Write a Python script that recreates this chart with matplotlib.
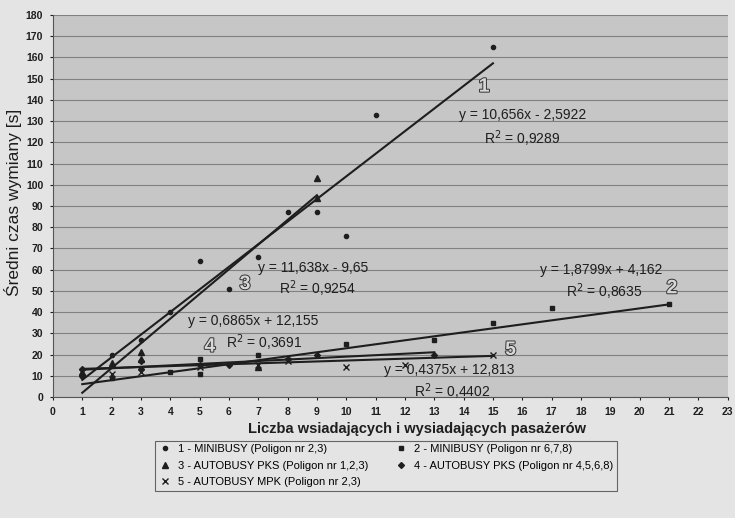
import numpy as np
import matplotlib.pyplot as plt
import matplotlib.patheffects as pe
from matplotlib.lines import Line2D

# === DANE === #
# 1 - MINIBUSY (Poligon nr 2,3)
s1_x = [1, 2, 3, 4, 5, 6, 7, 8, 9, 10, 11, 15]
s1_y = [10, 20, 27, 40, 64, 51, 66, 87, 87, 76, 133, 165]
# 2 - MINIBUSY (Poligon nr 6,7,8)
s2_x = [2, 4, 5, 5, 7, 10, 13, 15, 17, 21]
s2_y = [9, 12, 11, 18, 20, 25, 27, 35, 42, 44]
# 3 - AUTOBUSY PKS (Poligon nr 1,2,3)
s3_x = [1, 2, 3, 3, 7, 9, 9]
s3_y = [12, 16, 21, 18, 14, 94, 103]
# 4 - AUTOBUSY PKS (Poligon nr 4,5,6,8)
s4_x = [1, 1, 3, 3, 5, 6, 8, 9, 13]
s4_y = [13, 10, 17, 13, 15, 15, 18, 20, 20]
# 5 - AUTOBUSY MPK (Poligon nr 2,3)
s5_x = [1, 2, 3, 5, 7, 8, 10, 12, 15]
s5_y = [12, 11, 12, 14, 15, 17, 14, 15, 20]

# linie trendu: (nachylenie, wyraz wolny, x_od, x_do)
trend_a = [10.656, 1.8799, 11.638, 0.6865, 0.4375]
trend_b = [-2.5922, 4.162, -9.65, 12.155, 12.813]
trend_x0 = [1, 1, 1, 1, 1]
trend_x1 = [15, 21, 9, 13, 15]

eq_txt = ["y = 10,656x - 2,5922", "y = 1,8799x + 4,162", "y = 11,638x - 9,65",
          "y = 0,6865x + 12,155", "y = 0,4375x + 12,813"]
r2_txt = ["R$^2$ = 0,9289", "R$^2$ = 0,8635", "R$^2$ = 0,9254",
          "R$^2$ = 0,3691", "R$^2$ = 0,4402"]
etykiety = ["1 - MINIBUSY (Poligon nr 2,3)", "2 - MINIBUSY (Poligon nr 6,7,8)",
            "3 - AUTOBUSY PKS (Poligon nr 1,2,3)", "4 - AUTOBUSY PKS (Poligon nr 4,5,6,8)",
            "5 - AUTOBUSY MPK (Poligon nr 2,3)"]

# === WYKRES === #
plt.rcParams['font.family'] = ['Liberation Sans', 'DejaVu Sans']
fig = plt.figure(figsize=(7.35, 5.18), dpi=100, facecolor='#e4e4e4')
ax = fig.add_axes([0.072, 0.2336, 0.918, 0.7374])
ax.set_facecolor('#c6c6c6')

ink = '#1e1e1e'
markery = ['o', 's', '^', 'D', 'x']
rozm = [3, 3, 4, 3, 4]
serie = [(s1_x, s1_y), (s2_x, s2_y), (s3_x, s3_y), (s4_x, s4_y), (s5_x, s5_y)]
for (xs, ys), m, ms in zip(serie, markery, rozm):
    ax.plot(xs, ys, linestyle='none', marker=m, markersize=ms, color=ink,
            markeredgewidth=1.0, zorder=4)

for a, b, x0, x1 in zip(trend_a, trend_b, trend_x0, trend_x1):
    xx = np.array([x0, x1])
    ax.plot(xx, a * xx + b, color=ink, lw=1.5, zorder=3)

# równania i R^2
eq_pos = [(16.0, 133, 'center'), (16.6, 60, 'left'), (7.0, 61, 'left'),
          (4.6, 36, 'left'), (11.3, 12.5, 'left')]
r2_pos = [(16.0, 121.5, 'center'), (17.5, 49.5, 'left'), (7.7, 51, 'left'),
          (5.9, 25.5, 'left'), (12.3, 2.4, 'left')]
for t, (x, y, ha) in zip(eq_txt, eq_pos):
    ax.text(x, y, t, fontsize=10, ha=ha, va='center', color=ink, zorder=5)
for t, (x, y, ha) in zip(r2_txt, r2_pos):
    ax.text(x, y, t, fontsize=10, ha=ha, va='center', color=ink, zorder=5)

# numery serii (puste cyfry)
num_pos = [(14.7, 146), (21.1, 51), (6.55, 53), (5.35, 23.5), (15.6, 22)]
for i, (x, y) in enumerate(num_pos):
    ax.text(x, y, str(i + 1), fontsize=14, ha='center', va='center', color='#d8d8d8',
            fontweight='bold', zorder=5,
            path_effects=[pe.withStroke(linewidth=1.4, foreground='#333333')])

ax.set_xlim(0, 23)
ax.set_ylim(0, 180)
ax.set_xticks(range(0, 24))
ax.set_yticks(range(0, 181, 10))
ax.tick_params(labelsize=7.5, length=2, colors=ink, pad=5)
for lab in ax.get_xticklabels() + ax.get_yticklabels():
    lab.set_fontweight('bold')
ax.grid(axis='y', color='#808080', lw=0.8)
ax.set_axisbelow(True)
for s in ['top', 'right']:
    ax.spines[s].set_visible(False)
ax.spines['left'].set_color('#555555')
ax.spines['bottom'].set_color('#555555')

ax.set_xlabel('Liczba wsiadających i wysiadających pasażerów', fontsize=10.5,
              fontweight='bold', color=ink)
ax.xaxis.set_label_coords(0.54, -0.066)
ax.set_ylabel('Średni czas wymiany [s]', fontsize=12.5, color=ink)
ax.yaxis.set_label_coords(-0.046, 0.51)

# legenda - kolejność kolumnami: 1,3,5 | 2,4
uchwyty = [Line2D([], [], linestyle='none', marker=m, markersize=ms, color=ink)
           for m, ms in zip(markery, rozm)]
kol = [0, 2, 4, 1, 3]
leg = fig.legend([uchwyty[i] for i in kol], [etykiety[i] for i in kol],
                 loc='upper left', bbox_to_anchor=(0.203, 0.160), ncol=2,
                 fontsize=8, frameon=True, fancybox=False, edgecolor='#444444',
                 facecolor='#e4e4e4', handlelength=1.2, handletextpad=0.6,
                 columnspacing=2.3, labelspacing=0.6, borderpad=0.3)
leg.get_frame().set_linewidth(0.8)

fig.savefig('out.png', dpi=100, facecolor=fig.get_facecolor())
